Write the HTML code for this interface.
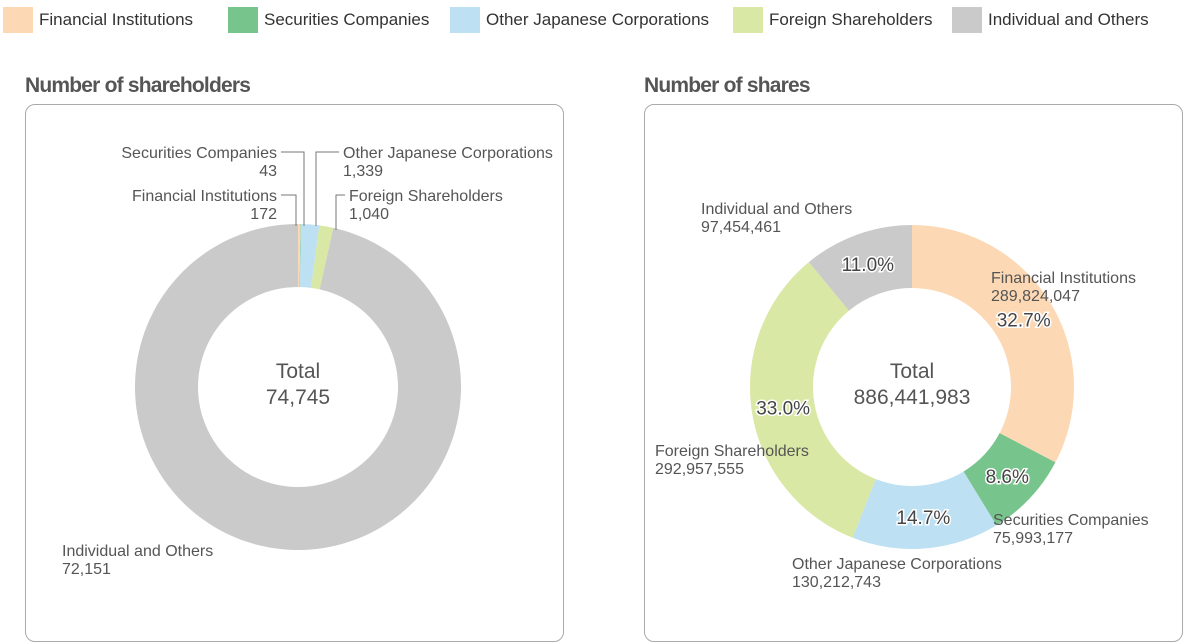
<!DOCTYPE html>
<html><head><meta charset="utf-8"><style>
body{margin:0;width:1200px;height:644px;background:#fff;font-family:"Liberation Sans","DejaVu Sans",sans-serif;overflow:hidden;position:relative}
.lg{position:absolute;top:7px;height:26px;display:flex;align-items:center;font-size:17px;color:#333}
.sw{width:30px;height:26px;margin-right:6px}
.title{position:absolute;top:74px;font-size:21px;font-weight:bold;color:#555;letter-spacing:-0.8px}
.box{position:absolute;top:104px;width:537px;height:536px;border:1px solid #aaa;border-radius:10px}
svg{position:absolute;left:0;top:0}
text{font-family:"Liberation Sans","DejaVu Sans",sans-serif;fill:#555;font-size:16px}
</style></head><body>
<div class="lg" style="left:3px"><div class="sw" style="background:#fcd9b4"></div>Financial Institutions</div>
<div class="lg" style="left:228px"><div class="sw" style="background:#77c48c"></div>Securities Companies</div>
<div class="lg" style="left:450px"><div class="sw" style="background:#bde0f3"></div>Other Japanese Corporations</div>
<div class="lg" style="left:733px"><div class="sw" style="background:#d9e8a5"></div>Foreign Shareholders</div>
<div class="lg" style="left:952px"><div class="sw" style="background:#c9cac9"></div>Individual and Others</div>
<div class="title" style="left:25px">Number of shareholders</div>
<div class="title" style="left:644px">Number of shares</div>
<div class="box" style="left:25px"></div>
<div class="box" style="left:644px"></div>
<svg id="s" width="1200" height="644">
<g stroke="#777" fill="none" stroke-width="1">
<polyline points="281,152 304,152 304,226"/>
<polyline points="281,195 296,195 296,226"/>
<polyline points="339,152 316,152 316,226"/>
<polyline points="345,195 336,195 336,230"/>
</g>
<text x="277" y="158" text-anchor="end">Securities Companies</text>
<text x="277" y="176" text-anchor="end">43</text>
<text x="277" y="201" text-anchor="end">Financial Institutions</text>
<text x="277" y="219" text-anchor="end">172</text>
<text x="343" y="158">Other Japanese Corporations</text>
<text x="343" y="176">1,339</text>
<text x="349" y="201">Foreign Shareholders</text>
<text x="349" y="219">1,040</text>
<text x="62" y="556">Individual and Others</text>
<text x="62" y="574">72,151</text>
<text x="298" y="378" text-anchor="middle" style="font-size:21px">Total</text>
<text x="298" y="404" text-anchor="middle" style="font-size:21px">74,745</text>
<text x="701" y="214">Individual and Others</text>
<text x="701" y="232">97,454,461</text>
<text x="991" y="283">Financial Institutions</text>
<text x="991" y="301">289,824,047</text>
<text x="655" y="456">Foreign Shareholders</text>
<text x="655" y="474">292,957,555</text>
<text x="993" y="525">Securities Companies</text>
<text x="993" y="543">75,993,177</text>
<text x="792" y="569">Other Japanese Corporations</text>
<text x="792" y="587">130,212,743</text>
<text x="912" y="378" text-anchor="middle" style="font-size:21px">Total</text>
<text x="912" y="404" text-anchor="middle" style="font-size:21px">886,441,983</text>
</svg>
<script>
const categories=["Financial Institutions","Securities Companies","Other Japanese Corporations","Foreign Shareholders","Individual and Others"];
const colors=["#fcd9b4","#77c48c","#bde0f3","#d9e8a5","#c9cac9"];
const holders=[172,43,1339,1040,72151];
const shares=[289824047,75993177,130212743,292957555,97454461];
const pctLabels=["32.7%","8.6%","14.7%","33.0%","11.0%"];
const svg=document.getElementById('s');const NS="http://www.w3.org/2000/svg";
function pt(cx,cy,r,a){return [cx+r*Math.sin(a),cy-r*Math.cos(a)];}
function donut(vals,cx,cy,ro,ri,name,labels){
 const tot=vals.reduce((a,b)=>a+b,0);let a0=0;
 vals.forEach((v,i)=>{const a1=a0+v/tot*2*Math.PI;const lg=(a1-a0)>Math.PI?1:0;
  const p1=pt(cx,cy,ro,a0),p2=pt(cx,cy,ro,a1),p3=pt(cx,cy,ri,a1),p4=pt(cx,cy,ri,a0);
  const p=document.createElementNS(NS,'path');
  p.setAttribute('d',`M${p1}A${ro},${ro} 0 ${lg} 1 ${p2}L${p3}A${ri},${ri} 0 ${lg} 0 ${p4}Z`);
  p.setAttribute('fill',colors[i]);
  
  
  svg.insertBefore(p,svg.firstChild);
  if(labels){const m=pt(cx,cy,(ro+ri)/2,(a0+a1)/2);const t=document.createElementNS(NS,'text');
   t.setAttribute('x',m[0]);t.setAttribute('y',m[1]+7);t.setAttribute('text-anchor','middle');
   t.setAttribute('style','font-size:19px;fill:#444;paint-order:stroke;stroke:#fff;stroke-width:3px');
   t.textContent=labels[i];
   
   
   svg.appendChild(t);}
  a0=a1;});
}
donut(holders,298,387,163,100,'shareholders',null);
donut(shares,912,387,162,99,'shares',pctLabels);
</script>
</body></html>
